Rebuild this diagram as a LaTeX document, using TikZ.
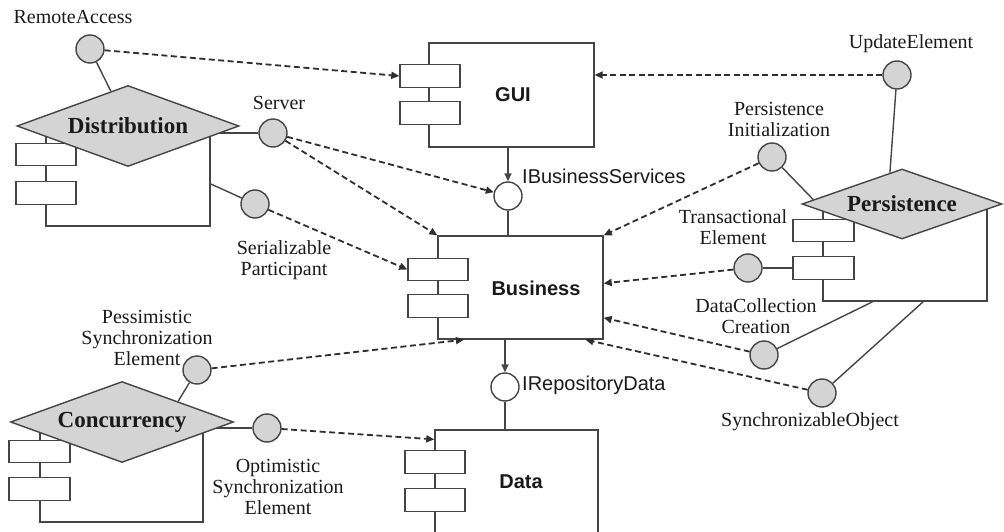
\documentclass[tikz,border=0pt]{standalone}
\usepackage{fontspec}
\setmainfont{Liberation Serif}
\setsansfont{Liberation Sans}
\usetikzlibrary{shapes.geometric,arrows.meta,calc,backgrounds}
\definecolor{linec}{HTML}{454545}
\definecolor{depc}{HTML}{2E2E2E}
\definecolor{aspfill}{HTML}{D4D4D4}
\definecolor{txt}{HTML}{1A1A1A}

\begin{document}
\begin{tikzpicture}[x=1pt,y=-1pt,
  line/.style={draw=linec, line width=1.4pt},
  body/.style={line, fill=white, rectangle, inner sep=0pt},
  port/.style={line, fill=white, rectangle, minimum width=60pt, minimum height=22.5pt, inner sep=0pt},
  aspectnode/.style={line, fill=aspfill, diamond, inner sep=0pt, text=txt,
    font=\fontsize{23}{25}\selectfont\bfseries},
  iface/.style={line, fill=aspfill, circle, minimum size=28pt, inner sep=0pt},
  provided/.style={line, fill=white, circle, minimum size=28pt, inner sep=0pt},
  lbl/.style={font=\fontsize{20}{21}\selectfont, align=center, inner sep=0pt, text=txt},
  slbl/.style={font=\sffamily\fontsize{20}{22}\selectfont, inner sep=0pt, anchor=west, text=txt},
  cname/.style={font=\sffamily\bfseries\fontsize{20}{22}\selectfont, inner sep=0pt, text=txt},
  dep/.style={draw=depc, line width=1.8pt, dash pattern=on 6pt off 3.5pt,
    -{Triangle[length=8pt,width=7pt]}},
  req/.style={line, -{Triangle[length=8pt,width=7pt]}}
]
\useasboundingbox (0,0) rectangle (1004,532);

% ---------- Distribution aspect ----------
\node[body, minimum width=164pt, minimum height=98pt] (distc) at (128,177) {};
\node[port] (dp1) at (46,154.5) {};
\node[port] (dp2) at (46,193) {};
\node[aspectnode, shape aspect=2.74, minimum width=222pt, minimum height=81pt] (dist) at (128,126) {Distribution};

% ---------- GUI ----------
\node[body, minimum width=165pt, minimum height=104pt] (gui) at (511.5,95) {};
\node[port] (gp1) at (430,76) {};
\node[port] (gp2) at (430,113) {};
\node[cname] (guiname) at (513,95) {GUI};

% ---------- Business ----------
\node[body, minimum width=165pt, minimum height=103pt] (bus) at (520.5,287.5) {};
\node[port] (bp1) at (438,269.5) {};
\node[port] (bp2) at (438,306) {};
\node[cname] (busname) at (536,288) {Business};

% ---------- Data (runs off the lower edge) ----------
\begin{scope}
  \clip (0,0) rectangle (1004,532);
  \node[body, minimum width=163pt, minimum height=120pt] (datac) at (516.5,490) {};
\end{scope}
\node[port] (dap1) at (435,462) {};
\node[port] (dap2) at (435,500) {};
\node[cname] (dataname) at (521,482) {Data};

% ---------- Concurrency aspect ----------
\node[body, minimum width=163pt, minimum height=97pt] (concc) at (121.5,473.5) {};
\node[port, minimum width=61pt] (cp1) at (39.5,451.5) {};
\node[port, minimum width=61pt] (cp2) at (39.5,489) {};
\node[aspectnode, shape aspect=2.75, minimum width=223pt, minimum height=81pt] (conc) at (122,422) {Concurrency};

% ---------- Persistence aspect ----------
\node[body, minimum width=164pt, minimum height=97pt] (persc) at (905,252.5) {};
\node[port, minimum width=61pt] (pp1) at (823.5,230.5) {};
\node[port, minimum width=61pt] (pp2) at (823.5,268) {};
\node[aspectnode, shape aspect=2.86, minimum width=200pt, minimum height=70pt] (pers) at (902,204) {Persistence};

% ---------- interfaces ----------
\node[iface] (rem) at (90,49) {};
\node[iface] (srv) at (273,133) {};
\node[iface] (ser) at (255,204) {};
\node[iface] (upd) at (897,75) {};
\node[iface] (pin) at (772,157) {};
\node[iface] (tra) at (748,268) {};
\node[iface] (dcc) at (764,355) {};
\node[iface] (syn) at (822,393) {};
\node[iface] (pes) at (197,370) {};
\node[iface] (opt) at (267,428) {};
\node[provided] (ibs) at (508,196) {};
\node[provided] (ird) at (505,387) {};

% ---------- labels ----------
\node[lbl] (remlbl) at (73,17) {RemoteAccess};
\node[lbl] (srvlbl) at (279,103) {Server};
\node[lbl] (serlbl) at (284,260) {Serializable\\Participant};
\node[lbl] (updlbl) at (911,44) {UpdateElement};
\node[lbl] (pinlbl) at (779,119) {Persistence\\Initialization};
\node[lbl] (tralbl) at (733,227) {Transactional\\Element};
\node[lbl] (dcclbl) at (756,316) {DataCollection\\Creation};
\node[lbl] (synlbl) at (810,422) {SynchronizableObject};
\node[lbl] (peslbl) at (147,338) {Pessimistic\\Synchronization\\Element};
\node[lbl] (optlbl) at (278,487) {Optimistic\\Synchronization\\Element};
\node[slbl] (ibslbl) at (522,176) {IBusinessServices};
\node[slbl] (irdlbl) at (522,385) {IRepositoryData};

% ---------- solid connectors, behind the shapes ----------
\begin{scope}[on background layer]
  \draw[line] (rem) -- (dist);
  \draw[line] (srv) -- (srv -| distc.east);
  \draw[line] (ser) -- ($(distc.north east)!0.57!(distc.south east)$);
  \draw[line] (pes) -- (conc.north east);
  \draw[line] (opt) -- (opt -| concc.east);
  \draw[line] (upd) -- ($(pers.west)!0.88!(pers.north)$);
  \draw[line] (pin) -- ($(pers.west)!0.12!(pers.north)$);
  \draw[line] (tra) -- (pp2);
  \draw[line] (dcc) -- ($(persc.south west)!0.305!(persc.south east)$);
  \draw[line] (syn) -- ($(persc.south west)!0.61!(persc.south east)$);
  \draw[line] (ibs) -- (ibs |- bus.north);
  \draw[line] (ird) -- (ird |- datac.north);
\end{scope}

% ---------- required interfaces ----------
\draw[req] (ibs |- gui.south) -- (ibs);
\draw[req] (ird |- bus.south) -- (ird);

% ---------- dependencies ----------
\draw[dep] (rem) -- (gp1.west);
\draw[dep] (upd) -- (upd -| gui.east);
\draw[dep] (srv) -- (ibs);
\draw[dep] (srv) -- (bus.north west);
\draw[dep] (ser) -- (bp1.west);
\draw[dep] (pin) -- (bus.north east);
\draw[dep] (tra) -- ($(bus.north east)!0.46!(bus.south east)$);
\draw[dep] (dcc) -- ($(bus.north east)!0.79!(bus.south east)$);
\draw[dep] (syn) -- ($(bus.south west)!0.89!(bus.south east)$);
\draw[dep] (pes) -- ($(bus.south west)!0.16!(bus.south east)$);
\draw[dep] (opt) -- ($(datac.north west)!0.083!(datac.south west)$);
\end{tikzpicture}
\end{document}
